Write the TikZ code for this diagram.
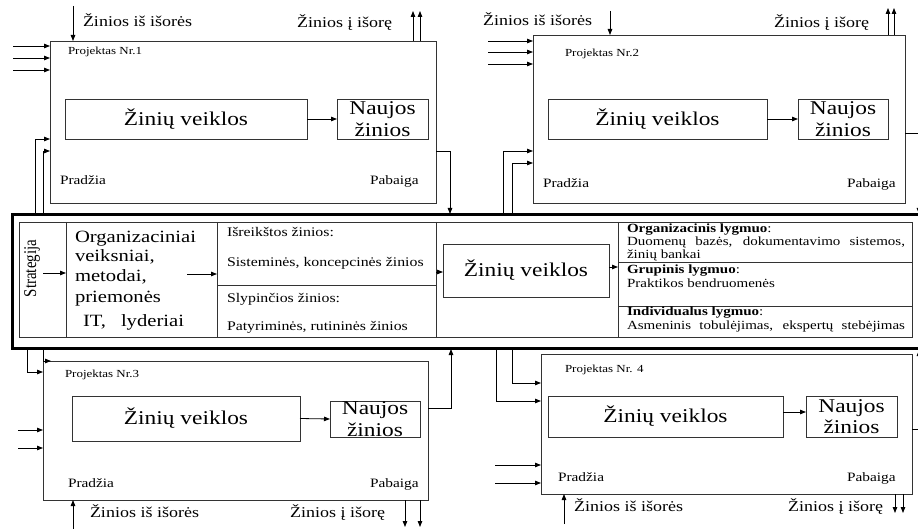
\documentclass[tikz,border=0pt]{standalone}
\usepackage{fontspec}
\setmainfont{Liberation Serif}[FakeStretch=1.2]
\newfontfamily\narrowserif{Liberation Serif}[FakeStretch=0.83]
\usetikzlibrary{arrows.meta}

\begin{document}
\begin{tikzpicture}[x=1pt,y=-1pt,
  box/.style={draw=black!80, line width=0.8pt, inner sep=0pt, outer sep=0pt},
  arr/.style={draw=black, line width=0.8pt, -{Triangle[length=6pt,width=4.5pt]}},
  ln/.style={draw=black!80, line width=0.8pt},
  txt/.style={anchor=base west, inner sep=0pt, outer sep=0pt},
  bigtxt/.style={font=\fontsize{19.5}{21.5}\selectfont, align=center, inner sep=0pt},
  orgtxt/.style={txt, font=\fontsize{17.2}{20}\selectfont},
  exttxt/.style={txt, font=\fontsize{15}{17}\selectfont},
  projtxt/.style={txt, font=\fontsize{10.8}{12}\selectfont},
  endtxt/.style={txt, font=\fontsize{12.8}{14}\selectfont},
  celltxt/.style={txt, font=\fontsize{13.2}{15}\selectfont},
  lvltxt/.style={txt, font=\fontsize{12.5}{14}\selectfont}
]
\useasboundingbox (0,0) rectangle (918,529);

% ---------- central strategy block ----------
\node[draw=black, line width=3pt, inner sep=0pt, minimum width=913pt, minimum height=133pt] (outer) at (468.5,281.5) {};
\node[box, minimum width=893pt, minimum height=115pt] (tbl) at (465.5,279.5) {};
\draw[ln] (66,222) -- (66,337);
\draw[ln] (217,222) -- (217,337);
\draw[ln] (436,222) -- (436,337);
\draw[ln] (618,222) -- (618,337);
\draw[ln] (217,285) -- (436,285);
\draw[ln] (618,262) -- (912,262);
\draw[ln] (618,306) -- (912,306);

\node[rotate=90, inner sep=0pt, font=\narrowserif\fontsize{18}{20}\selectfont] (strat) at (32,268.5) {Strategija};
\coordinate (stratR) at (43,273);
\coordinate (col2L) at (66,273);
\draw[arr] (stratR) -- (col2L);

\node[orgtxt] (org1) at (75,242.5) {Organizaciniai};
\node[orgtxt] (org2) at (75,261.5) {veiksniai,};
\node[orgtxt] (org3) at (75,281.5) {metodai,};
\node[orgtxt] (org4) at (75,302) {priemonės};
\node[orgtxt] (org5) at (83,326.5) {IT,};
\node[orgtxt] (org6) at (121,326.5) {lyderiai};
\coordinate (orgR) at (187,274);
\coordinate (col3L) at (217,274);
\draw[arr] (orgR) -- (col3L);

\node[celltxt] (exp1) at (227,237) {Išreikštos žinios:};
\node[celltxt] (exp2) at (227,267) {Sisteminės, koncepcinės žinios};
\node[celltxt] (tac1) at (227,302) {Slypinčios žinios:};
\node[celltxt] (tac2) at (227,330) {Patyriminės, rutininės žinios};

\node[box, minimum width=166pt, minimum height=53pt] (zvc) at (526,270.5) {};
\node[bigtxt] (zvcl) at (zvc.center) {Žinių veiklos};
\coordinate (col3R) at (436,272);
\draw[arr] (col3R) -- (col3R -| zvc.west);
\coordinate (lvlL) at (618,267);
\draw[arr] (lvlL -| zvc.east) -- (lvlL);

\node[lvltxt] (l1a) at (627,232.5) {\textbf{Organizacinis lygmuo}:};
\node[lvltxt] (l1b) at (627,246) {\makebox[278pt][s]{Duomenų bazės, dokumentavimo sistemos,}};
\node[lvltxt] (l1c) at (627,258.5) {žinių bankai};
\node[lvltxt] (l2a) at (627,273.5) {\textbf{Grupinis lygmuo}:};
\node[lvltxt] (l2b) at (627,287.5) {Praktikos bendruomenės};
\node[lvltxt] (l3a) at (627,315.5) {\textbf{Individualus lygmuo}:};
\node[lvltxt] (l3b) at (627,329) {\makebox[278pt][s]{Asmeninis tobulėjimas, ekspertų stebėjimas}};

% ---------- project 1 ----------
\node[box, minimum width=386pt, minimum height=162pt] (p1) at (243,122) {};
\node[box, minimum width=242pt, minimum height=40pt] (p1zv) at (186,119) {};
\node[box, minimum width=91pt, minimum height=40pt] (p1nz) at (382.5,119) {};
\node[bigtxt] at (p1zv.center) {Žinių veiklos};
\node[bigtxt] at (p1nz.center) {Naujos\\žinios};
\draw[arr] (p1zv.east) -- (p1nz.west);
\node[projtxt] (p1lab) at (68,55) {Projektas Nr.1};
\node[endtxt] (p1beg) at (60,185) {Pradžia};
\node[endtxt] (p1end) at (370,185) {Pabaiga};
\node[exttxt] (p1in) at (83,27) {Žinios iš išorės};
\node[exttxt] (p1out) at (297,28) {Žinios į išorę};
\coordinate (p1top) at (73,6);
\draw[arr] (p1top) -- (p1top |- p1.north);
\coordinate (p1o1) at (413,11);
\coordinate (p1o2) at (420,11);
\draw[arr] (p1o1 |- p1.north) -- (p1o1);
\draw[arr] (p1o2 |- p1.north) -- (p1o2);
\coordinate (p1a) at (13,46);
\coordinate (p1b) at (13,58);
\coordinate (p1c) at (13,70);
\draw[arr] (p1a) -- (p1a -| p1.west);
\draw[arr] (p1b) -- (p1b -| p1.west);
\draw[arr] (p1c) -- (p1c -| p1.west);
\coordinate (s1a) at (35,215);
\coordinate (s1b) at (43,215);
\coordinate (t1a) at (50,139);
\coordinate (t1b) at (50,151);
\draw[arr] (s1a) |- (t1a);
\draw[arr] (s1b) |- (t1b);
\coordinate (p1r) at (436,151);
\coordinate (p1d) at (450,214);
\draw[arr] (p1r) -| (p1d);

% ---------- project 2 ----------
\node[box, minimum width=372pt, minimum height=168pt] (p2) at (719,119) {};
\node[box, minimum width=219pt, minimum height=40pt] (p2zv) at (657.5,119) {};
\node[box, minimum width=90pt, minimum height=40pt] (p2nz) at (843,119) {};
\node[bigtxt] at (p2zv.center) {Žinių veiklos};
\node[bigtxt] at (p2nz.center) {Naujos\\žinios};
\draw[arr] (p2zv.east) -- (p2nz.west);
\node[projtxt] (p2lab) at (565,57) {Projektas Nr.2};
\node[endtxt] (p2beg) at (543,188) {Pradžia};
\node[endtxt] (p2end) at (847,188) {Pabaiga};
\node[exttxt] (p2in) at (483,26) {Žinios iš išorės};
\node[exttxt] (p2out) at (774,28) {Žinios į išorę};
\coordinate (p2top) at (610,11);
\draw[arr] (p2top) -- (p2top |- p2.north);
\coordinate (p2o1) at (888,8);
\coordinate (p2o2) at (894,8);
\draw[arr] (p2o1 |- p2.north) -- (p2o1);
\draw[arr] (p2o2 |- p2.north) -- (p2o2);
\coordinate (p2a) at (488,41);
\coordinate (p2b) at (488,52);
\coordinate (p2c) at (488,64);
\draw[arr] (p2a) -- (p2a -| p2.west);
\draw[arr] (p2b) -- (p2b -| p2.west);
\draw[arr] (p2c) -- (p2c -| p2.west);
\coordinate (s2a) at (503,215);
\coordinate (s2b) at (512,215);
\coordinate (t2a) at (533,151);
\coordinate (t2b) at (533,163);
\draw[arr] (s2a) |- (t2a);
\draw[arr] (s2b) |- (t2b);
\coordinate (p2r) at (905,133);
\coordinate (p2d) at (919,214);
\draw[arr] (p2r) -| (p2d);

% ---------- project 3 ----------
\node[box, minimum width=385pt, minimum height=139pt] (p3) at (235.5,430.5) {};
\node[box, minimum width=228pt, minimum height=45pt] (p3zv) at (186,418.5) {};
\node[box, minimum width=90pt, minimum height=36pt] (p3nz) at (375,419) {};
\node[bigtxt] at (p3zv.center) {Žinių veiklos};
\node[bigtxt] at (p3nz.center) {Naujos\\žinios};
\draw[arr] (p3zv.east) -- (p3nz.west);
\node[projtxt] (p3lab) at (65,377) {Projektas Nr.3};
\node[endtxt] (p3beg) at (68,487) {Pradžia};
\node[endtxt] (p3end) at (370,487) {Pabaiga};
\node[exttxt] (p3in) at (90,517) {Žinios iš išorės};
\node[exttxt] (p3out) at (290,517) {Žinios į išorę};
\coordinate (p3bot) at (73,529);
\draw[arr] (p3bot) -- (p3bot |- p3.south);
\coordinate (p3o1) at (405,527);
\coordinate (p3o2) at (420,527);
\draw[arr] (p3o1 |- p3.south) -- (p3o1);
\draw[arr] (p3o2 |- p3.south) -- (p3o2);
\coordinate (p3a) at (18,430);
\coordinate (p3b) at (18,448);
\draw[arr] (p3a) -- (p3a -| p3.west);
\draw[arr] (p3b) -- (p3b -| p3.west);
\coordinate (s3a) at (43,348);
\coordinate (s3b) at (27,348);
\coordinate (t3a) at (51,361);
\coordinate (t3b) at (43,372);
\draw[arr] (s3a) |- (t3a);
\draw[arr] (s3b) |- (t3b);
\coordinate (p3r) at (428,408);
\coordinate (p3u) at (451,349);
\draw[arr] (p3r) -| (p3u);

% ---------- project 4 ----------
\node[box, minimum width=371pt, minimum height=140pt] (p4) at (726.5,424) {};
\node[box, minimum width=235pt, minimum height=41pt] (p4zv) at (665.5,416.5) {};
\node[box, minimum width=91pt, minimum height=41pt] (p4nz) at (851.5,416.5) {};
\node[bigtxt] at (p4zv.center) {Žinių veiklos};
\node[bigtxt] at (p4nz.center) {Naujos\\žinios};
\coordinate (p4m) at (783,412);
\draw[arr] (p4m) -- (p4m -| p4nz.west);
\node[projtxt] (p4lab) at (565,372) {Projektas Nr. 4};
\node[endtxt] (p4beg) at (558,481) {Pradžia};
\node[endtxt] (p4end) at (847,481) {Pabaiga};
\node[exttxt] (p4in) at (574,511) {Žinios iš išorės};
\node[exttxt] (p4out) at (788,511) {Žinios į išorę};
\coordinate (p4bot) at (564,524);
\draw[arr] (p4bot) -- (p4bot |- p4.south);
\coordinate (p4o1) at (895,513);
\coordinate (p4o2) at (903,513);
\draw[arr] (p4o1 |- p4.south) -- (p4o1);
\draw[arr] (p4o2 |- p4.south) -- (p4o2);
\coordinate (p4a) at (495,465);
\coordinate (p4b) at (495,483);
\draw[arr] (p4a) -- (p4a -| p4.west);
\draw[arr] (p4b) -- (p4b -| p4.west);
\coordinate (s4a) at (512,348);
\coordinate (s4b) at (496,348);
\coordinate (t4a) at (541,383);
\coordinate (t4b) at (541,401);
\draw[arr] (s4a) |- (t4a);
\draw[arr] (s4b) |- (t4b);
\coordinate (p4r) at (912,429);
\coordinate (p4u) at (919,350);
\draw[arr] (p4r) -| (p4u);
\end{tikzpicture}
\end{document}
